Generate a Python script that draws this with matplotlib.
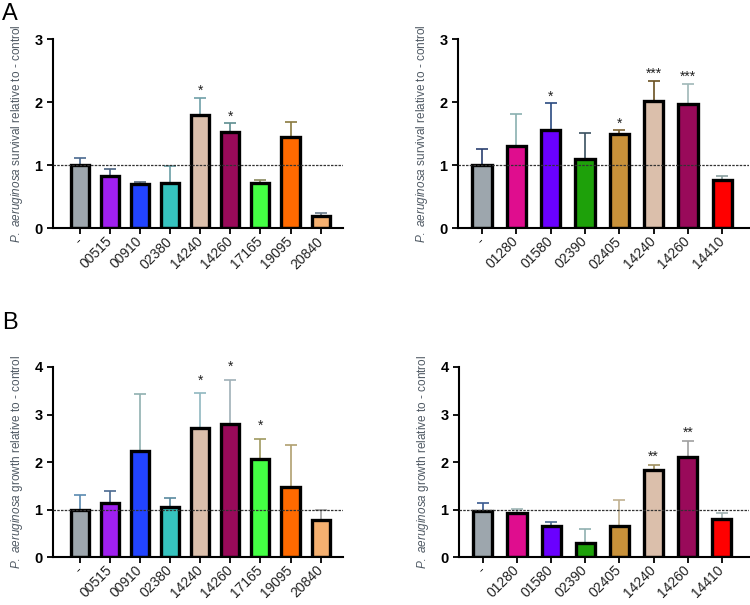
import numpy as np
import matplotlib
matplotlib.use('Agg')
import matplotlib.pyplot as plt

plt.rcParams['font.family'] = ['Liberation Sans', 'DejaVu Sans']
plt.rcParams['mathtext.fontset'] = 'custom'
plt.rcParams['mathtext.it'] = 'Liberation Sans:italic'
plt.rcParams['mathtext.rm'] = 'Liberation Sans'

# strains
genes_left = ['-', '00515', '00910', '02380', '14240', '14260', '17165', '19095', '20840']
genes_right = ['-', '01280', '01580', '02390', '02405', '14240', '14260', '14410']

# A: survival
surv_left = [1.0, 0.82, 0.70, 0.71, 1.80, 1.53, 0.72, 1.44, 0.185]
surv_left_sd = [0.12, 0.12, 0.035, 0.27, 0.27, 0.13, 0.05, 0.25, 0.055]
surv_left_sig = ['', '', '', '', '*', '*', '', '', '']

surv_right = [1.0, 1.31, 1.55, 1.10, 1.49, 2.01, 1.97, 0.77]
surv_right_sd = [0.26, 0.50, 0.43, 0.41, 0.06, 0.33, 0.32, 0.06]
surv_right_sig = ['', '', '*', '', '*', '***', '***', '']

# B: growth
grow_left = [0.98, 1.13, 2.23, 1.06, 2.71, 2.80, 2.06, 1.48, 0.77]
grow_left_sd = [0.32, 0.26, 1.21, 0.19, 0.74, 0.93, 0.43, 0.87, 0.22]
grow_left_sig = ['', '', '', '', '*', '*', '*', '', '']

grow_right = [0.96, 0.92, 0.65, 0.29, 0.65, 1.83, 2.10, 0.80]
grow_right_sd = [0.17, 0.10, 0.08, 0.31, 0.55, 0.11, 0.34, 0.12]
grow_right_sig = ['', '', '', '', '', '**', '**', '']

col_left = ['#9da6ad', '#a020f0', '#2244ff', '#36c3bf', '#dbbfab', '#990a5a',
            '#44ff44', '#ff6a00', '#f5b070']
col_right = ['#9da6ad', '#df0d8e', '#6a00ff', '#1ea10a', '#c8913a', '#dbbfab',
             '#990a5a', '#ff0000']

errc_A_left = ['#4a6a90', '#4a6282', '#56687a', '#6a9ea6', '#6f9fa8', '#5e8e90',
               '#8a8a60', '#8a7a40', '#6a7a8a']
errc_A_right = ['#2a4070', '#8ab0b0', '#2a4a80', '#3a5060', '#7a6030', '#6a5020',
                '#a0b8b8', '#8aa0a0']
errc_B_left = ['#5a8ab0', '#4a6a90', '#90b0b0', '#5a8aa0', '#90b8c0', '#a0b0b8',
               '#a09a60', '#b0a070', '#a0a0a0']
errc_B_right = ['#3a5a90', '#a0b8b8', '#4a6a90', '#90b0b0', '#c0b090', '#a09060',
                '#a0a0a0', '#a0b0b0']


def panel(ax, labels, vals, sd, colors, errc, sig, ymax, ylab, xlim, width, star_off):
    x = np.arange(len(labels))
    for i in range(len(labels)):
        ax.errorbar(x[i], vals[i], yerr=[[0], [sd[i]]], fmt='none',
                    ecolor=errc[i], elinewidth=1.2, capsize=4, capthick=1.2, zorder=1)
    ax.bar(x, vals, width, color=colors, edgecolor='black', linewidth=2.4, zorder=2)
    ax.axhline(1, color='#333333', linestyle=(0, (2, 1)), linewidth=0.9, zorder=3)
    for i in range(len(labels)):
        if sig[i]:
            ax.annotate(sig[i], (x[i], vals[i] + sd[i]), xytext=(0, star_off),
                        textcoords='offset points', ha='center', va='bottom',
                        fontsize=10, color='#222222')
    ax.set_xlim(xlim)
    ax.set_ylim(0, ymax)
    ax.set_yticks(range(ymax + 1))
    ax.set_xticks(x)
    ax.set_xticklabels(labels, rotation=45, ha='right', va='center',
                       rotation_mode='anchor', fontsize=10, color='#222222')
    for t in ax.get_yticklabels():
        t.set_fontweight('bold')
        t.set_fontsize(10.5)
    ax.spines['top'].set_visible(False)
    ax.spines['right'].set_visible(False)
    ax.spines['left'].set_linewidth(1.5)
    ax.spines['bottom'].set_linewidth(1.5)
    ax.tick_params(axis='both', direction='out', length=4, width=1.3)
    ax.tick_params(axis='x', pad=4)
    ax.set_ylabel(ylab, fontsize=8.5, color='#505a64', labelpad=7)


fig = plt.figure(figsize=(7.5, 6.05), dpi=100)

ylab_s = r'$\it{P.\ aeruginosa}$ survival relative to - control'
ylab_g = r'$\it{P.\ aeruginosa}$ growth relative to - control'

ax1 = fig.add_axes([0.0707, 0.623, 0.386, 0.3125])
panel(ax1, genes_left, surv_left, surv_left_sd, col_left, errc_A_left, surv_left_sig,
      3, ylab_s, (-0.9, 8.73), 0.6, 0)

ax2 = fig.add_axes([0.6107, 0.623, 0.388, 0.3125])
panel(ax2, genes_right, surv_right, surv_right_sd, col_right, errc_A_right, surv_right_sig,
      3, ylab_s, (-0.7, 7.78), 0.56, 0)

ax3 = fig.add_axes([0.0707, 0.0793, 0.386, 0.3141])
panel(ax3, genes_left, grow_left, grow_left_sd, col_left, errc_B_left, grow_left_sig,
      4, ylab_g, (-0.9, 8.73), 0.6, 4)

ax4 = fig.add_axes([0.612, 0.0793, 0.386, 0.3141])
panel(ax4, genes_right, grow_right, grow_right_sd, col_right, errc_B_right, grow_right_sig,
      4, ylab_g, (-0.7, 7.78), 0.56, 1)

fig.text(0.003, 0.995, 'A', fontsize=17, va='top', ha='left')
fig.text(0.003, 0.485, 'B', fontsize=17, va='top', ha='left')

fig.savefig('out.png', dpi=100)
